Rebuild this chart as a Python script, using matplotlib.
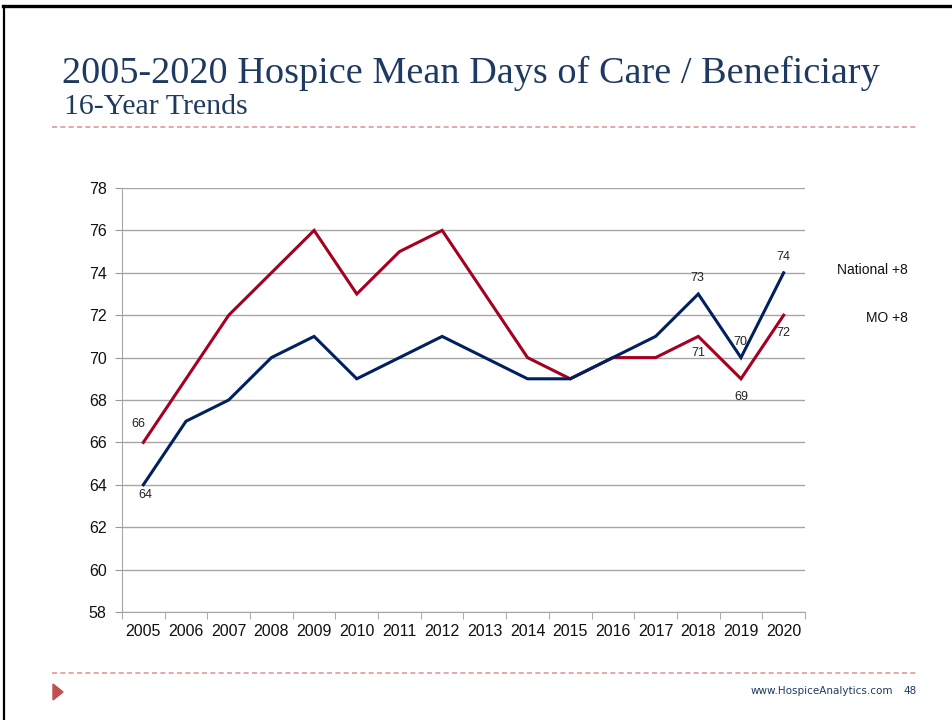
import matplotlib
matplotlib.use("Agg")
import matplotlib.pyplot as plt
from matplotlib.lines import Line2D
from matplotlib.patches import Polygon

years = ["2005", "2006", "2007", "2008", "2009", "2010", "2011", "2012",
         "2013", "2014", "2015", "2016", "2017", "2018", "2019", "2020"]
national = [64, 67, 68, 70, 71, 69, 70, 71, 70, 69, 69, 70, 71, 73, 70, 74]
mo = [66, 69, 72, 74, 76, 73, 75, 76, 73, 70, 69, 70, 70, 71, 69, 72]

# labelled points: (year index, offset in pixels)
national_labels = [(0, (2, -10)), (13, (-1, 16)), (14, (-1, 16)), (15, (0, 16))]
mo_labels = [(0, (-5, 18)), (13, (0, -17)), (14, (0, -18)), (15, (0, -18))]

navy = "#002060"
red = "#A50021"
title_col = "#1F3A60"
dash_col = "#E39A9A"

W, H = 953, 720
fig = plt.figure(figsize=(W / 100, H / 100), dpi=100)

# slide frame (top and left edges)
fig.add_artist(Line2D([3 / W, 1], [1 - 6 / H, 1 - 6 / H], color="black", lw=2.4))
fig.add_artist(Line2D([4 / W, 4 / W], [0, 1 - 6 / H], color="black", lw=1.6))

fig.text(62 / W, 1 - 83 / H, "2005-2020 Hospice Mean Days of Care / Beneficiary",
         family="Liberation Serif", fontsize=27.5, color=title_col)
fig.text(64 / W, 1 - 114 / H, "16-Year Trends",
         family="Liberation Serif", fontsize=21.5, color=title_col)

for yy in (127, 673):
    fig.add_artist(Line2D([52 / W, 918 / W], [1 - yy / H, 1 - yy / H],
                          color=dash_col, lw=1.2, ls=(0, (3, 2))))

fig.add_artist(Polygon([[53 / W, 1 - 684 / H], [53 / W, 1 - 700 / H], [63 / W, 1 - 692 / H]],
                       closed=True, color="#C0504D", transform=fig.transFigure))
fig.text(893 / W, 1 - 691 / H, "www.HospiceAnalytics.com", ha="right", va="center",
         fontsize=7.5, color="#1F3A60", family="Liberation Sans Narrow")
fig.text(917 / W, 1 - 691 / H, "48", ha="right", va="center",
         fontsize=7.5, color="#1F3A60", family="Liberation Sans Narrow")

ax = fig.add_axes([122 / W, 1 - 612 / H, (805 - 122) / W, (612 - 188) / H])
x = list(range(len(years)))
ax.plot(x, mo, color=red, lw=2.2, solid_joinstyle="miter")
ax.plot(x, national, color=navy, lw=2.2, solid_joinstyle="miter")

for i, off in national_labels:
    ax.annotate(str(national[i]), (x[i], national[i]), xytext=off, textcoords="offset pixels",
                ha="center", va="center", fontsize=9, family="Liberation Sans", color="#222222")
for i, off in mo_labels:
    ax.annotate(str(mo[i]), (x[i], mo[i]), xytext=off, textcoords="offset pixels",
                ha="center", va="center", fontsize=9, family="Liberation Sans", color="#222222")

ax.set_xlim(-0.5, len(years) - 0.5)
ax.set_ylim(58, 78)
ax.set_yticks(range(58, 79, 2))
ax.set_xticks(x)
ax.set_xticklabels(years)
ax.set_xticks([i - 0.5 for i in range(len(years) + 1)], minor=True)
ax.tick_params(axis="x", which="major", length=0, pad=9)
ax.tick_params(axis="x", which="minor", length=5, color="#999999")
ax.tick_params(axis="y", length=5, color="#999999", pad=6)
for lab in ax.get_xticklabels() + ax.get_yticklabels():
    lab.set_family("Liberation Sans")
    lab.set_fontsize(11.5)
    lab.set_color("#111111")

ax.grid(axis="y", color="#A6A6A6", lw=1)
ax.set_axisbelow(True)
for s in ("top", "right"):
    ax.spines[s].set_visible(False)
ax.spines["left"].set_color("#A6A6A6")
ax.spines["bottom"].set_color("#A6A6A6")

fig.text(908 / W, 1 - 270 / H, "National +8", ha="right", va="center",
         fontsize=10, family="Liberation Sans", color="#111111")
fig.text(908 / W, 1 - 318 / H, "MO +8", ha="right", va="center",
         fontsize=10, family="Liberation Sans", color="#111111")

fig.savefig("out.png", dpi=100)
